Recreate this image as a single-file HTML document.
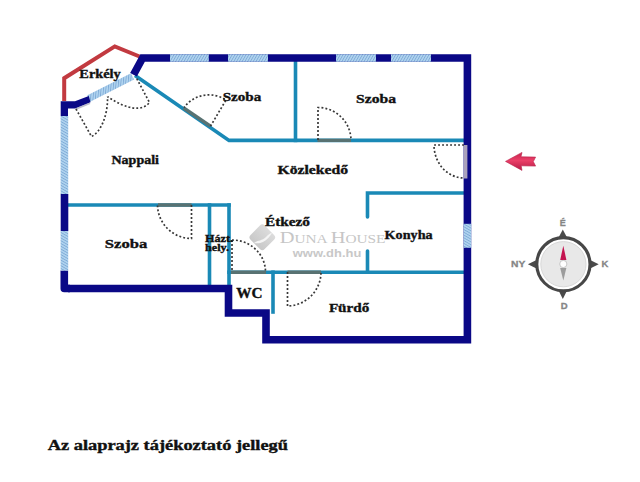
<!DOCTYPE html>
<html><head><meta charset="utf-8">
<style>
html,body{margin:0;padding:0;background:#fff;}
body{width:640px;height:482px;overflow:hidden;}
svg{display:block;}
.lbl{font-family:"Liberation Serif",serif;font-weight:bold;fill:#111;stroke:#111;stroke-width:0.35px;}
.cmp{font-family:"Liberation Sans",sans-serif;font-weight:bold;fill:#858585;stroke:#858585;stroke-width:0.3px;}
</style></head>
<body>
<svg width="640" height="482" viewBox="0 0 640 482">
<defs>
<pattern id="hatch" patternUnits="userSpaceOnUse" width="2.4" height="3" patternTransform="rotate(30)">
<rect width="2.4" height="3" fill="#b2d5f0"/>
<rect width="0.9" height="3" fill="#7eaad6"/>
</pattern>
<pattern id="hatchV" patternUnits="userSpaceOnUse" width="2.4" height="3" patternTransform="rotate(120)">
<rect width="2.4" height="3" fill="#b2d5f0"/>
<rect width="0.9" height="3" fill="#7eaad6"/>
</pattern>
<pattern id="hatchD" patternUnits="userSpaceOnUse" width="2.4" height="3" patternTransform="rotate(5)">
<rect width="2.4" height="3" fill="#b2d5f0"/>
<rect width="0.9" height="3" fill="#7eaad6"/>
</pattern>
<linearGradient id="arrG" x1="0" y1="0" x2="0" y2="1">
<stop offset="0" stop-color="#c8244e"/><stop offset="0.45" stop-color="#ea3f68"/><stop offset="1" stop-color="#b51a44"/>
</linearGradient>
<linearGradient id="logoG" x1="0" y1="0" x2="0" y2="1">
<stop offset="0" stop-color="#dcdcdc"/><stop offset="1" stop-color="#c8c8c8"/>
</linearGradient>
</defs>
<rect width="640" height="482" fill="#fff"/>

<!-- balcony red -->
<polyline points="64.2,101 64.2,78.2 114.8,46.4 139.5,56.5" fill="none" stroke="#c23a40" stroke-width="4" stroke-linejoin="miter"/>

<!-- watermark -->
<g opacity="1">
<rect x="252.3" y="227.3" width="20" height="20" rx="3.4" fill="url(#logoG)" transform="rotate(45 262.3 237.3)"/>
<path d="M254,243 C258,240 262,241 266,237 C268,235 270,233 272,233 C270,236 267,240 263,242 C260,243.5 257,243.5 254,243 Z" fill="#f4f4f4"/>
<text x="279.7" y="242.8" font-family="Liberation Serif,serif" font-size="16.5" fill="#c6c6c6" textLength="105.8" lengthAdjust="spacingAndGlyphs">D<tspan font-size="12.4">UNA </tspan>H<tspan font-size="12.4">OUSE</tspan></text>
<text x="292.8" y="256.5" font-family="Liberation Sans,sans-serif" font-weight="bold" font-size="11" fill="#c8c8c8" textLength="68.5" lengthAdjust="spacingAndGlyphs">www.dh.hu</text>
</g>

<!-- inner teal walls -->
<g stroke="#1a89b6" stroke-width="3.6" fill="none" stroke-linecap="square">
<polyline points="136.5,76.5 229,140.4 464,140.4"/>
<line x1="295.5" y1="62" x2="295.5" y2="140.4"/>
<line x1="68" y1="205" x2="229" y2="205"/>
<line x1="209.5" y1="205" x2="209.5" y2="285"/>
<line x1="229" y1="205" x2="229" y2="285"/>
<polyline points="367.5,217 367.5,193 464,193" stroke-linecap="round"/>
<line x1="367.5" y1="251" x2="367.5" y2="272" stroke-linecap="round"/>
<line x1="229" y1="272.2" x2="464" y2="272.2"/>
<line x1="273" y1="272.2" x2="273" y2="312"/>
</g>
<!-- door leaves grey -->
<g stroke="#587272" stroke-width="3.4" fill="none">
<line x1="183.7" y1="108" x2="210.5" y2="126.2"/>
<line x1="317.5" y1="140.4" x2="351" y2="140.4"/>
<line x1="158" y1="205" x2="191.5" y2="205"/>
<line x1="231" y1="272.2" x2="266" y2="272.2"/>
<line x1="287.5" y1="272.2" x2="321" y2="272.2"/>
</g>

<!-- outer navy walls -->
<g stroke="#0a0886" stroke-width="7.6" fill="none" stroke-linejoin="miter">

<polyline points="64.3,270.5 64.3,288.5 70,288.5" stroke-linejoin="round"/>
<line x1="64.5" y1="194" x2="64.5" y2="231"/>
<polyline points="133.5,74.8 142.6,58 467.4,58 467.4,339.8 266,339.8 266,313 228.5,313 228.5,288.5 68,288.5"/>
</g>
<!-- windows -->
<g stroke="url(#hatch)" stroke-width="7.6" fill="none">
<line x1="170" y1="58" x2="208.8" y2="58"/>
<line x1="228" y1="58" x2="268" y2="58"/>
<line x1="336" y1="58" x2="376" y2="58"/>
<line x1="391" y1="58" x2="431" y2="58"/>
<line x1="64.4" y1="116" x2="64.4" y2="194" stroke="url(#hatchV)"/>
<line x1="64.4" y1="231" x2="64.4" y2="270.5" stroke="url(#hatchV)"/>
<line x1="467.4" y1="223.8" x2="467.4" y2="247.8" stroke="url(#hatchV)"/>
<line x1="88.6" y1="98.6" x2="132.5" y2="76.3" stroke="url(#hatchD)" stroke-width="7"/>
</g>
<line x1="465.6" y1="145" x2="465.6" y2="178.5" stroke="#aaa2bc" stroke-width="3.6"/>
<polygon points="60.7,101.2 75,101.2 88.8,96 90.5,102.3 75,108.4 68,108.4 68,116 60.7,116" fill="#0a0886"/>
<line x1="75.5" y1="109.3" x2="90" y2="103.3" stroke="#9090a8" stroke-width="1.6" opacity="0.6"/>

<!-- door arcs -->
<g stroke="#383838" stroke-width="1.7" fill="none" stroke-dasharray="1.9 2.1">
<path d="M464,145 H434 A30,33 0 0 0 464,178"/>
<path d="M191.5,205 V238.5 A34,34 0 0 1 157.5,205"/>
<path d="M232,240 V272 M232,240 A33.5,32 0 0 1 265.5,272"/>
<path d="M287.5,272 V306 A34,34 0 0 0 321,272"/>
<path d="M318,140 V107.5 A33,33 0 0 1 351,140"/>
<path d="M210.5,126.2 L226,100 A31,31 0 0 0 184,107.5"/>
<path d="M76,109 L91.5,136.5 C101,132 108,115 107.5,96.8"/>
<path d="M136.8,78.7 L149.5,102.5 Q138,116.3 107.5,96.8"/>
</g>

<!-- labels -->
<text class="lbl" x="205" y="241.5" font-size="10" textLength="28" lengthAdjust="spacingAndGlyphs">Házt.</text>
<text class="lbl" x="205" y="250.7" font-size="10" textLength="24" lengthAdjust="spacingAndGlyphs">hely.</text>

<text class="lbl" x="79.3" y="77.8" font-size="12" textLength="41.5" lengthAdjust="spacingAndGlyphs">Erkély</text>
<text class="lbl" x="222.7" y="101.2" font-size="12" textLength="38.5" lengthAdjust="spacingAndGlyphs">Szoba</text>
<text class="lbl" x="356.1" y="102.8" font-size="12.5" textLength="40" lengthAdjust="spacingAndGlyphs">Szoba</text>
<text class="lbl" x="111.5" y="163.8" font-size="12" textLength="47.5" lengthAdjust="spacingAndGlyphs">Nappali</text>
<text class="lbl" x="277.5" y="174" font-size="12" textLength="70.5" lengthAdjust="spacingAndGlyphs">Közlekedő</text>
<text class="lbl" x="104.8" y="247.6" font-size="13" textLength="42.5" lengthAdjust="spacingAndGlyphs">Szoba</text>
<text class="lbl" x="265" y="226.2" font-size="12" textLength="45" lengthAdjust="spacingAndGlyphs">Étkező</text>
<text class="lbl" x="384.6" y="238.8" font-size="12" textLength="48" lengthAdjust="spacingAndGlyphs">Konyha</text>
<text class="lbl" x="236.2" y="297.8" font-size="14.5" textLength="26.3" lengthAdjust="spacingAndGlyphs">WC</text>
<text class="lbl" x="328.9" y="311.6" font-size="12.5" textLength="40.3" lengthAdjust="spacingAndGlyphs">Fürdő</text>
<text class="lbl" x="47.7" y="449.5" font-size="13.8" textLength="240.3" lengthAdjust="spacingAndGlyphs">Az alaprajz tájékoztató jellegű</text>

<!-- arrow -->
<polygon points="505.5,161.4 522,152.4 521,156.8 535.6,157.1 533.3,161.6 535.6,166.1 521.2,165.8 522,170.4" fill="url(#arrG)" stroke="#b8204a" stroke-width="0.6" stroke-linejoin="round"/>

<!-- compass -->
<g>
<polygon points="562.8,229.4 558.3,238 567.3,238" fill="#4a4a4a"/>
<polygon points="562.8,299.1 558.3,290 567.3,290" fill="#4a4a4a"/>
<polygon points="527.9,264.2 537,259.7 537,268.7" fill="#4a4a4a"/>
<polygon points="598.7,264.2 589.6,259.7 589.6,268.7" fill="#4a4a4a"/>
<circle cx="563.4" cy="264.2" r="26.6" fill="#fff" stroke="#474747" stroke-width="3.1"/>
<circle cx="563.4" cy="264.2" r="22.6" fill="#e8e8e8" stroke="#d8d8d8" stroke-width="1"/>
<polygon points="563.3,245.7 560.2,260 566.4,260" fill="#c41450"/>
<polygon points="563.3,280.6 560.2,268 566.4,268" fill="#9c9c9c"/>
<circle cx="563.3" cy="264" r="3.6" fill="#fff" stroke="#bbb" stroke-width="0.8"/>
<text class="cmp" x="562.8" y="225.8" font-size="9" text-anchor="middle">É</text>
<text class="cmp" x="518.2" y="267" font-size="9.5" text-anchor="middle" textLength="14.3" lengthAdjust="spacingAndGlyphs">NY</text>
<text class="cmp" x="605" y="267" font-size="9.5" text-anchor="middle">K</text>
<text class="cmp" x="564.3" y="309" font-size="9.5" text-anchor="middle">D</text>
</g>
</svg>
</body></html>
